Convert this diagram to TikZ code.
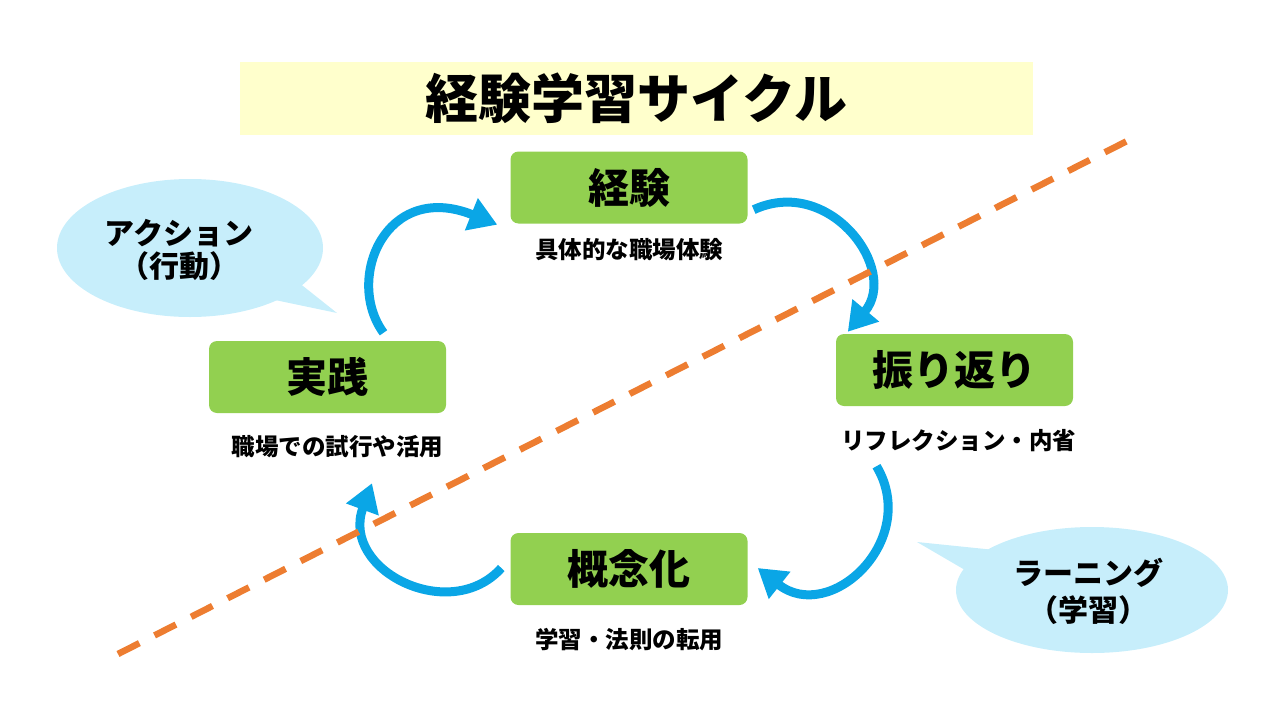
\documentclass[tikz,border=0pt]{standalone}
\usepackage{fontspec}
\setmainfont{Noto Sans CJK JP}
\usetikzlibrary{shapes.geometric,arrows.meta}
\definecolor{phasegreen}{HTML}{92D050}
\definecolor{titleyellow}{HTML}{FFFFCC}
\definecolor{bubbleblue}{HTML}{C7EEFB}
\definecolor{cycblue}{HTML}{0AA6E6}
\definecolor{cutorange}{HTML}{ED7D31}
\tikzset{
    phase/.style={fill=phasegreen, rounded corners=8pt, minimum width=237pt,
        minimum height=72pt, inner sep=0pt, font=\fontsize{41}{44}\selectfont\bfseries},
    note/.style={inner sep=0pt, font=\fontsize{23.5}{26}\selectfont\bfseries},
    bubble/.style={ellipse, fill=bubbleblue, inner sep=0pt},
    bubbletext/.style={inner sep=0pt, align=center},
    cyc/.style={draw=cycblue, line width=9pt, -{Triangle[length=28pt,width=33pt]}},
    cutline/.style={draw=cutorange, line width=6.5pt, dash pattern=on 24pt off 17pt}
}
\begin{document}
\begin{tikzpicture}[x=1pt,y=-1pt]
    \useasboundingbox (0,0) rectangle (1280,720);

    \node[fill=titleyellow, minimum width=793pt, minimum height=73pt, inner sep=0pt,
        font=\fontsize{53}{58}\selectfont\bfseries] (title) at (636.5,98.5) {経験学習サイクル};

    % four phases
    \node[phase] (keiken) at (629,187.5) {経験};
    \node[phase] (furikaeri) at (954.5,370) {振り返り};
    \node[phase] (gainen) at (629,569) {概念化};
    \node[phase] (jissen) at (327.5,377) {実践};

    \node[note] (keikenL) at ([shift={(0,26)}]keiken.south) {具体的な職場体験};
    \node[note] (furikaeriL) at ([shift={(4,34)}]furikaeri.south) {リフレクション・内省};
    \node[note] (gainenL) at ([shift={(0,34)}]gainen.south) {学習・法則の転用};
    \node[note] (jissenL) at ([shift={(10,33)}]jissen.south) {職場での試行や活用};

    % callouts
    \node[bubble, minimum width=266pt, minimum height=138pt] (actionBg) at (190,248) {};
    \fill[bubbleblue] (298,282) -- (337,313) -- (275,300) -- cycle;
    \node[bubbletext, font=\fontsize{30}{33}\selectfont\bfseries] (action) at (179,250) {アクション\\（行動）};
    \node[bubble, minimum width=272pt, minimum height=126pt] (learningBg) at (1092,590) {};
    \fill[bubbleblue] (995,550) -- (917,542) -- (965,570) -- cycle;
    \node[bubbletext, font=\fontsize{30}{37}\selectfont\bfseries] (learning) at (1088,591) {ラーニング\\（学習）};

    % cycle arrows
    \draw[cyc] ([shift={(56,-8)}]jissen.north) .. controls +(-39,-53) and +(-112,-45) .. ([shift={(-13,1)}]keiken.south west);
    \draw[cyc] ([shift={(6,-14)}]keiken.south east) .. controls +(76,-35) and +(52,-62) .. ([shift={(12,-2)}]furikaeri.north west);
    \draw[cyc] ([shift={(-78,60)}]furikaeri.south) .. controls +(44,74) and +(72,57) .. ([shift={(10,-1)}]gainen.east);
    \draw[cyc] ([shift={(-9,-1)}]gainen.west) .. controls +(-51,57) and +(-32,87) .. ([shift={(44.5,70)}]jissen.south);

    \coordinate (cutS) at (118,654);
    \coordinate (cutE) at (1133,138);
    \draw[cutline] (cutS) -- (cutE);
\end{tikzpicture}
\end{document}
